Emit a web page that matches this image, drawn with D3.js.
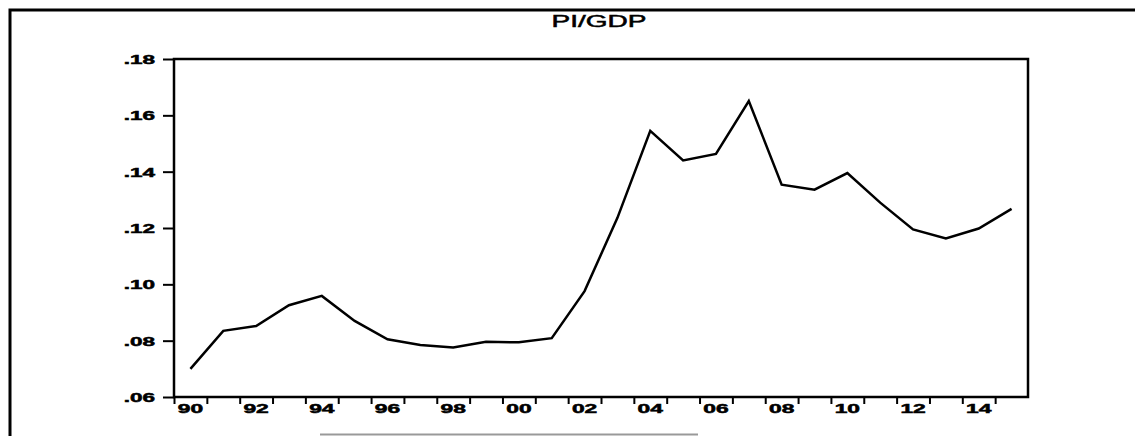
<!DOCTYPE html>
<html>
<head>
<meta charset="utf-8">
<script src="https://cdn.jsdelivr.net/npm/d3@7"></script>
<style>
  html, body { margin: 0; padding: 0; background: #fff; }
  svg { display: block; }
</style>
</head>
<body>
<svg id="chart" width="1135" height="436"></svg>
<script>
// ---- data ----
const title = "PI/GDP";
const years = [1990,1991,1992,1993,1994,1995,1996,1997,1998,1999,2000,2001,2002,
               2003,2004,2005,2006,2007,2008,2009,2010,2011,2012,2013,2014,2015];
const values = [0.0700,0.0835,0.0852,0.0926,0.0959,0.0870,0.0805,0.0785,0.0776,0.0796,
                0.0794,0.0809,0.0976,0.1236,0.1545,0.1440,0.1463,0.1651,0.1354,0.1336,
                0.1395,0.1290,0.1195,0.1163,0.1198,0.1268];
const yTicks = [0.06,0.08,0.10,0.12,0.14,0.16,0.18];
const xLabelYears = [1990,1992,1994,1996,1998,2000,2002,2004,2006,2008,2010,2012,2014];

// ---- layout ----
const svg = d3.select("#chart");
const L = 174, R = 1028, T = 59, B = 397;
const x = d3.scaleLinear().domain([1990, 2016]).range([L, R]);
const y = d3.scaleLinear().domain([0.06, 0.18]).range([B, T]);
const FONT = "'Liberation Sans', Arial, sans-serif";

// outer frame
svg.append("rect").attr("x", 10).attr("y", 10).attr("width", 1140).attr("height", 440)
  .attr("fill", "none").attr("stroke", "#000").attr("stroke-width", 3);

// title
svg.append("text").text(title)
  .attr("transform", "translate(599,26.5) scale(1.65,1)")
  .attr("text-anchor", "middle").attr("font-family", FONT)
  .attr("font-size", 17).attr("fill", "#000")
  .attr("stroke", "#000").attr("stroke-width", 0.5);

// y axis
const SY = 1.8;
const yAxis = d3.axisLeft(y).tickValues(yTicks).tickSize(11).tickPadding(0)
  .tickFormat(d => d3.format(".2f")(d).replace(/^0/, ""));
const gy = svg.append("g").attr("transform", `translate(${L},0)`).call(yAxis);
gy.select(".domain").remove();
gy.selectAll(".tick line").attr("stroke", "#000").attr("stroke-width", 2);
gy.selectAll(".tick text")
  .attr("x", -19 / SY).attr("dy", "0.36em")
  .attr("transform", `scale(${SY},1)`)
  .attr("font-family", FONT).attr("font-weight", "bold").attr("font-size", 12.5)
  .attr("fill", "#000").attr("stroke", "#000").attr("stroke-width", 0.5);

// x axis ticks (year boundaries)
const xAxis = d3.axisBottom(x).tickValues(d3.range(1990, 2016)).tickSize(7).tickFormat("");
const gx = svg.append("g").attr("transform", `translate(0,${B})`).call(xAxis);
gx.select(".domain").remove();
gx.selectAll(".tick line").attr("stroke", "#000").attr("stroke-width", 2);

// x labels centered in year interval
svg.append("g").selectAll("text").data(xLabelYears).join("text")
  .text(d => String(d % 100).padStart(2, "0"))
  .attr("transform", d => `translate(${x(d + 0.5)},${B + 16}) scale(1.9,1)`)
  .attr("text-anchor", "middle").attr("font-family", FONT).attr("font-weight", "bold")
  .attr("font-size", 12).attr("fill", "#000")
  .attr("stroke", "#000").attr("stroke-width", 0.5);

// plot frame
svg.append("rect").attr("x", L).attr("y", T).attr("width", R - L).attr("height", B - T)
  .attr("fill", "none").attr("stroke", "#000").attr("stroke-width", 2.5);

// series line
const line = d3.line().x((d, i) => x(years[i] + 0.5)).y(d => y(d));
svg.append("path").datum(values).attr("d", line)
  .attr("fill", "none").attr("stroke", "#000").attr("stroke-width", 2.5)
  .attr("stroke-linejoin", "miter");

// faint scan bar at bottom
svg.append("line").attr("x1", 320).attr("x2", 698).attr("y1", 434.5).attr("y2", 434.5)
  .attr("stroke", "#999").attr("stroke-width", 2);
</script>
</body>
</html>
